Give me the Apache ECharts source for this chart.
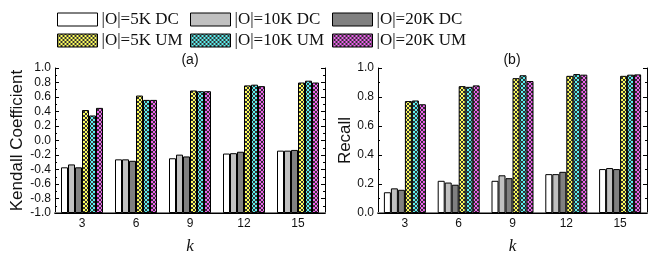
<!DOCTYPE html>
<html>
<head>
<meta charset="utf-8">
<script src="https://cdn.jsdelivr.net/npm/echarts@6/dist/echarts.min.js"></script>
<style>
  html, body { margin: 0; padding: 0; background: #fff; }
  #chart { width: 648px; height: 260px; }
</style>
</head>
<body>
<div id="chart"></div>
<script>
const kValues = ['3', '6', '9', '12', '15']
const seriesNames = ['|O|=5K DC', '|O|=10K DC', '|O|=20K DC', '|O|=5K UM', '|O|=10K UM', '|O|=20K UM']

// (a) Kendall coefficient
const kendall5kDC = [-0.37, -0.26, -0.245, -0.18, -0.14]
const kendall10kDC = [-0.33, -0.26, -0.195, -0.175, -0.14]
const kendall20kDC = [-0.37, -0.28, -0.22, -0.155, -0.13]
const kendall5kUM = [0.42, 0.62, 0.69, 0.76, 0.80]
const kendall10kUM = [0.345, 0.56, 0.68, 0.77, 0.825]
const kendall20kUM = [0.45, 0.56, 0.68, 0.75, 0.80]

// (b) Recall
const recall5kDC = [0.143, 0.222, 0.222, 0.268, 0.303]
const recall10kDC = [0.17, 0.21, 0.26, 0.268, 0.31]
const recall20kDC = [0.16, 0.195, 0.24, 0.284, 0.303]
const recall5kUM = [0.772, 0.875, 0.93, 0.946, 0.946]
const recall10kUM = [0.776, 0.87, 0.95, 0.958, 0.954]
const recall20kUM = [0.75, 0.88, 0.91, 0.954, 0.956]

const yTicksA = { min: -1, max: 1, step: 0.2 }
const yTicksB = { min: 0, max: 1, step: 0.2 }

function hatch(color) {
  const c = document.createElement('canvas')
  c.width = 4
  c.height = 4
  const ctx = c.getContext('2d')
  ctx.fillStyle = color
  ctx.fillRect(0, 0, 4, 4)
  ctx.fillStyle = '#333'
  for (let i = 0; i < 4; i++) {
    ctx.fillRect(i, i, 1, 1)
    ctx.fillRect(3 - i, i, 1, 1)
  }
  return { image: c, repeat: 'repeat' }
}

const fills = ['#ffffff', '#c0c0c0', '#808080', hatch('#ffff5a'), hatch('#5af0f0'), hatch('#f060f0')]

const sansFont = 'Liberation Sans'
const offsetA = -yTicksA.min

const chart = echarts.init(document.getElementById('chart'), null, { renderer: 'canvas' })

function gridAxes(gi, yCfg, offset, yName, nameGap) {
  const xBottom = {
    type: 'category', gridIndex: gi, data: kValues, position: 'bottom',
    axisLine: { lineStyle: { color: '#808080', width: 2 } },
    axisTick: { show: false },
    axisLabel: { color: '#111', fontFamily: sansFont, fontSize: 12, margin: 5 },
    name: 'k', nameLocation: 'middle', nameGap: 25,
    nameTextStyle: { fontFamily: 'Liberation Serif', fontStyle: 'italic', fontSize: 17, color: '#111' }
  }
  const xTop = {
    type: 'category', gridIndex: gi, data: kValues, position: 'top',
    axisLine: { lineStyle: { color: '#000', width: 1 } },
    axisTick: { inside: true, alignWithLabel: true, length: 3, lineStyle: { color: '#000' } },
    axisLabel: { show: false }
  }
  const fmt = (v) => (Math.round((v - offset) * 10) / 10).toFixed(1)
  const yLeft = {
    type: 'value', gridIndex: gi, position: 'left',
    min: yCfg.min + offset, max: yCfg.max + offset, interval: yCfg.step,
    splitLine: { show: false },
    axisLine: { show: true, lineStyle: { color: '#000' } },
    axisTick: { show: true, inside: true, length: 4, lineStyle: { color: '#000' } },
    minorTick: { show: true, splitNumber: 2, length: 2, lineStyle: { color: '#000' } },
    axisLabel: { color: '#111', fontFamily: sansFont, fontSize: 12, margin: 4, formatter: fmt },
    name: yName, nameLocation: 'middle', nameGap: nameGap,
    nameTextStyle: { fontFamily: sansFont, fontSize: 17, color: '#111' }
  }
  const yRight = {
    type: 'value', gridIndex: gi, position: 'right',
    min: yCfg.min + offset, max: yCfg.max + offset, interval: yCfg.step,
    splitLine: { show: false },
    axisLine: { show: true, lineStyle: { color: '#000' } },
    axisTick: { show: true, inside: true, length: 4, lineStyle: { color: '#000' } },
    minorTick: { show: true, splitNumber: 2, length: 2, lineStyle: { color: '#000' } },
    axisLabel: { show: false }
  }
  return { x: [xBottom, xTop], y: [yLeft, yRight] }
}

const axA = gridAxes(0, yTicksA, offsetA, 'Kendall Coefficient', 29)
const axB = gridAxes(1, yTicksB, 0, 'Recall', 24)

function barSeries(name, i, data, xi, yi, offset) {
  return {
    name: name, type: 'bar', xAxisIndex: xi, yAxisIndex: yi,
    data: data.map((v) => v + offset),
    barWidth: 7, barGap: '0%',
    itemStyle: { color: fills[i], borderColor: '#000', borderWidth: 1 },
    emphasis: { disabled: true }
  }
}

const dataA = [kendall5kDC, kendall10kDC, kendall20kDC, kendall5kUM, kendall10kUM, kendall20kUM]
const dataB = [recall5kDC, recall10kDC, recall20kDC, recall5kUM, recall10kUM, recall20kUM]

const series = []
seriesNames.forEach((n, i) => series.push(barSeries(n, i, dataA[i], 0, 0, offsetA)))
seriesNames.forEach((n, i) => series.push(barSeries(n, i, dataB[i], 2, 2, 0)))

const legendCols = [57, 190, 332]
const legendRows = [11, 32]
const legends = seriesNames.map((n, i) => ({
  data: [{ name: n, icon: 'rect' }],
  left: legendCols[i % 3],
  top: legendRows[Math.floor(i / 3)],
  padding: 0,
  itemWidth: 40, itemHeight: 13, itemGap: 4,
  itemStyle: { borderWidth: 1, borderColor: '#000' },
  selectedMode: false,
  textStyle: { fontFamily: 'Liberation Serif', fontSize: 17, color: '#111', lineHeight: 14, padding: [0, 0, 0, -1] }
}))

chart.setOption({
  animation: false,
  backgroundColor: '#fff',
  title: [
    { text: '(a)', left: 190, top: 53, textAlign: 'center', padding: 0,
      textStyle: { fontFamily: sansFont, fontSize: 14, fontWeight: 'normal', color: '#111' } },
    { text: '(b)', left: 512, top: 53, textAlign: 'center', padding: 0,
      textStyle: { fontFamily: sansFont, fontSize: 14, fontWeight: 'normal', color: '#111' } }
  ],
  legend: legends,
  grid: [
    { left: 55, right: 323, top: 68, bottom: 31, containLabel: false },
    { left: 378, right: 1, top: 68, bottom: 31, containLabel: false }
  ],
  xAxis: axA.x.concat(axB.x.map((a) => Object.assign({}, a, { gridIndex: 1 }))),
  yAxis: axA.y.concat(axB.y.map((a) => Object.assign({}, a, { gridIndex: 1 }))),
  series: series
})
</script>
</body>
</html>
